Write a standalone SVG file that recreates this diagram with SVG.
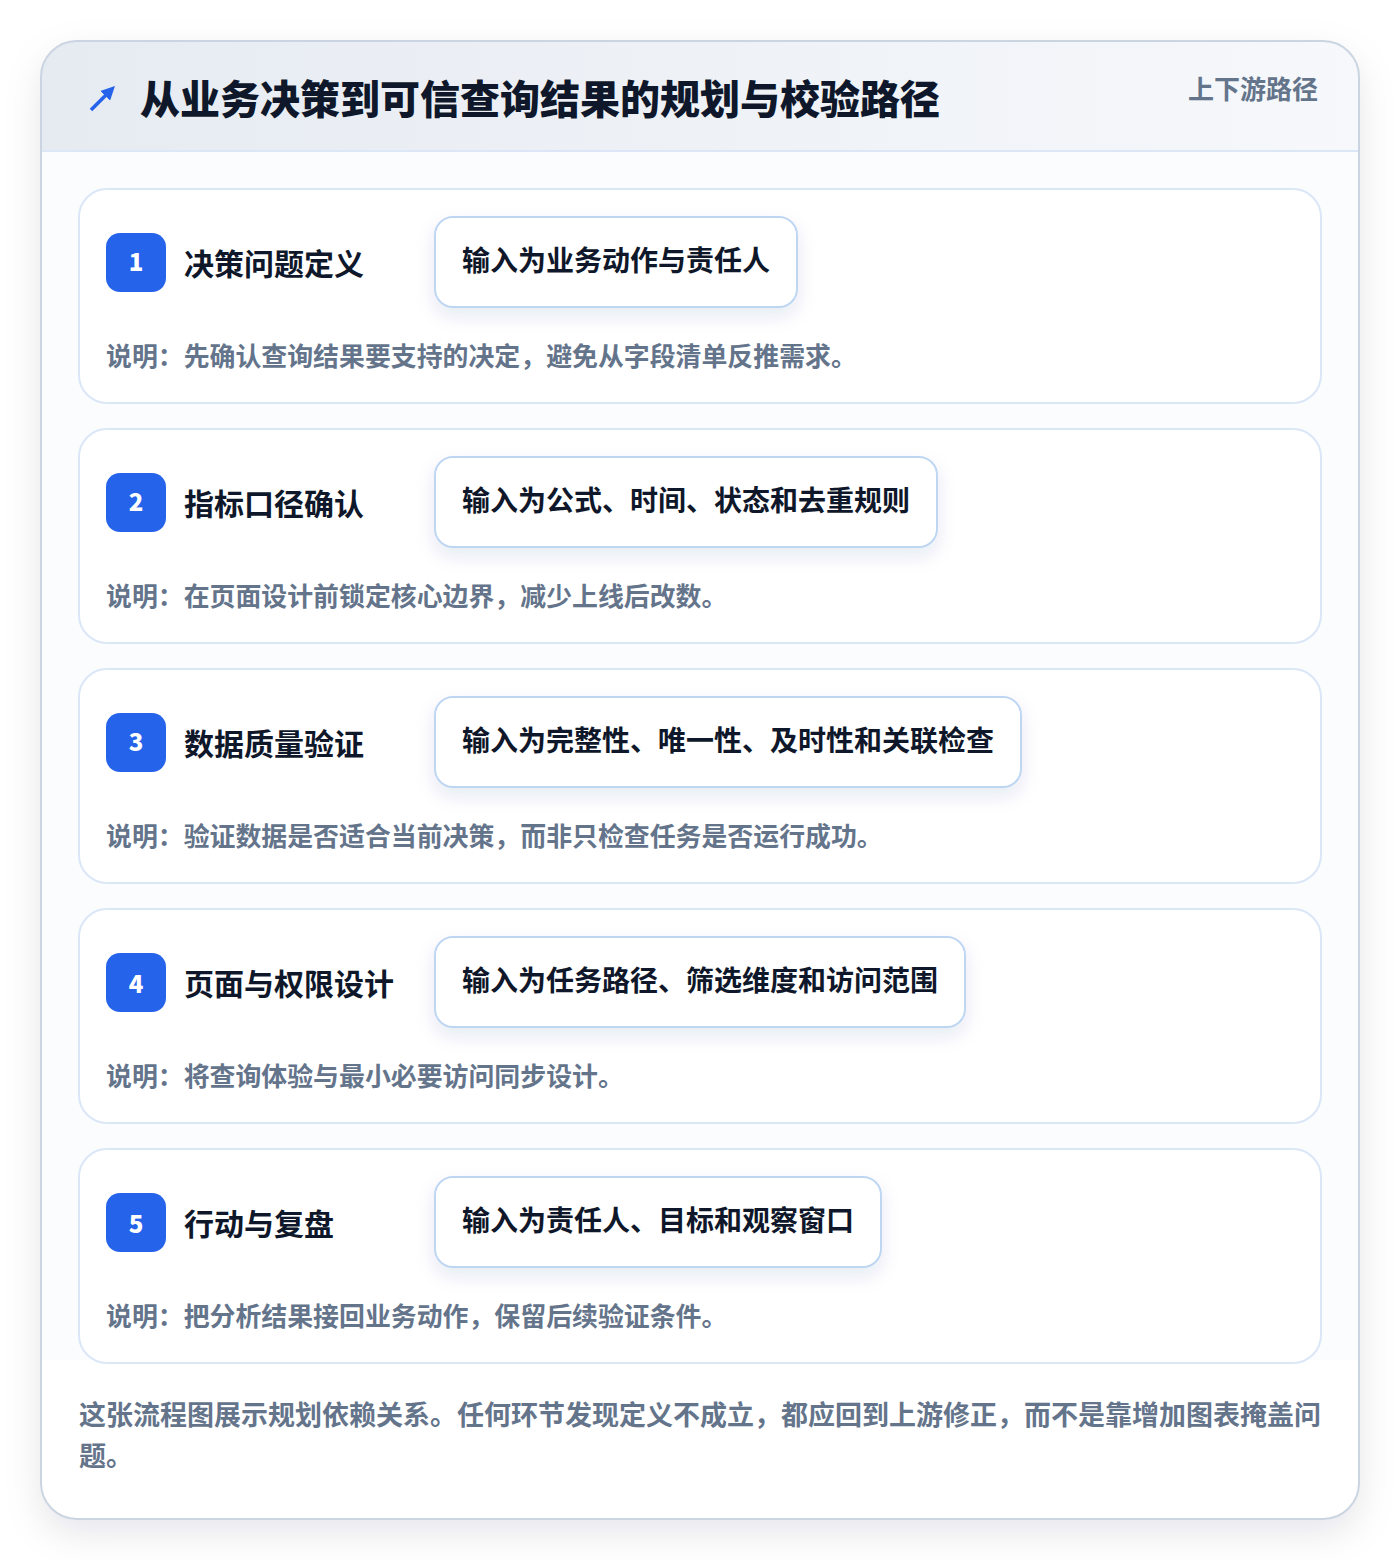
<svg xmlns="http://www.w3.org/2000/svg" width="1400" height="1560" viewBox="0 0 1400 1560">
<defs>
<linearGradient id="hdr" x1="0" y1="0" x2="1" y2="0">
<stop offset="0" stop-color="#e6ebf2"/>
<stop offset="1" stop-color="#f6f8fb"/>
</linearGradient>
<filter id="outerShadow" x="-10%" y="-10%" width="120%" height="120%">
<feDropShadow dx="0" dy="14" stdDeviation="18" flood-color="#0f172a" flood-opacity="0.10"/>
</filter>
<filter id="boxShadow" x="-20%" y="-30%" width="140%" height="170%">
<feDropShadow dx="0" dy="8" stdDeviation="9" flood-color="#1e3a8a" flood-opacity="0.10"/>
</filter>
<clipPath id="cardClip"><rect x="41" y="41" width="1318" height="1478" rx="36"/></clipPath>
<marker id="arr" viewBox="0 0 10 10" refX="5" refY="5" markerWidth="4" markerHeight="4" orient="auto"><path d="M0,0 L10,5 L0,10 z" fill="#2563eb"/></marker>
</defs>
<style>
.f{font-family:"Noto Sans CJK SC","Noto Sans",sans-serif;font-weight:700}
.title{font-size:40px;fill:#0f172a;font-weight:900}
.tag{font-size:26px;fill:#64748b}
.card{fill:#ffffff;stroke:#dbe7f7;stroke-width:2}
.badge{fill:#2563eb}
.num{font-size:24px;fill:#ffffff;font-weight:900}
.lbl{font-size:30px;fill:#0f172a}
.inbox{fill:#ffffff;stroke:#bfd6f3;stroke-width:2}
.intx{font-size:28px;fill:#0f172a}
.desc{font-size:25.9px;fill:#64748b}
.foot{font-size:27px;fill:#64748b}
</style>
<rect width="1400" height="1560" fill="#ffffff"/>
<rect x="41" y="41" width="1318" height="1478" rx="36" fill="#fbfcfe" filter="url(#outerShadow)"/>
<g clip-path="url(#cardClip)">
<rect x="41" y="41" width="1318" height="1478" fill="#fbfcfe"/>
<rect x="41" y="1360" width="1318" height="160" fill="#ffffff"/>
<rect x="41" y="41" width="1318" height="110" fill="url(#hdr)"/>
<line x1="41" y1="151" x2="1359" y2="151" stroke="#dbe7f7" stroke-width="2"/>
</g>
<rect x="41" y="41" width="1318" height="1478" rx="36" fill="none" stroke="#cbd5e1" stroke-width="2"/>
<g id="header">
<line x1="91" y1="110" x2="110" y2="91" stroke="#2563eb" stroke-width="3.5" marker-end="url(#arr)"/>
<text class="f title" x="140" y="114">从业务决策到可信查询结果的规划与校验路径</text>
<text class="f tag" x="1318" y="99" text-anchor="end">上下游路径</text>
</g>
<g id="connectors"></g>
<g id="step1">
<rect class="card" x="79" y="189" width="1242" height="214" rx="28"/>
<rect class="badge" x="106" y="233" width="60" height="59" rx="14"/>
<text class="f num" x="136" y="271" text-anchor="middle">1</text>
<text class="f lbl" x="184" y="275">决策问题定义</text>
<rect class="inbox" x="435" y="217" width="362" height="90" rx="18" filter="url(#boxShadow)"/>
<text class="f intx" x="462" y="271">输入为业务动作与责任人</text>
<text class="f desc" x="106" y="366">说明：先确认查询结果要支持的决定，避免从字段清单反推需求。</text>
</g>
<g id="step2">
<rect class="card" x="79" y="429" width="1242" height="214" rx="28"/>
<rect class="badge" x="106" y="473" width="60" height="59" rx="14"/>
<text class="f num" x="136" y="511" text-anchor="middle">2</text>
<text class="f lbl" x="184" y="515">指标口径确认</text>
<rect class="inbox" x="435" y="457" width="502" height="90" rx="18" filter="url(#boxShadow)"/>
<text class="f intx" x="462" y="511">输入为公式、时间、状态和去重规则</text>
<text class="f desc" x="106" y="606">说明：在页面设计前锁定核心边界，减少上线后改数。</text>
</g>
<g id="step3">
<rect class="card" x="79" y="669" width="1242" height="214" rx="28"/>
<rect class="badge" x="106" y="713" width="60" height="59" rx="14"/>
<text class="f num" x="136" y="751" text-anchor="middle">3</text>
<text class="f lbl" x="184" y="755">数据质量验证</text>
<rect class="inbox" x="435" y="697" width="586" height="90" rx="18" filter="url(#boxShadow)"/>
<text class="f intx" x="462" y="751">输入为完整性、唯一性、及时性和关联检查</text>
<text class="f desc" x="106" y="846">说明：验证数据是否适合当前决策，而非只检查任务是否运行成功。</text>
</g>
<g id="step4">
<rect class="card" x="79" y="909" width="1242" height="214" rx="28"/>
<rect class="badge" x="106" y="953" width="60" height="59" rx="14"/>
<text class="f num" x="136" y="993" text-anchor="middle">4</text>
<text class="f lbl" x="184" y="995">页面与权限设计</text>
<rect class="inbox" x="435" y="937" width="530" height="90" rx="18" filter="url(#boxShadow)"/>
<text class="f intx" x="462" y="991">输入为任务路径、筛选维度和访问范围</text>
<text class="f desc" x="106" y="1086">说明：将查询体验与最小必要访问同步设计。</text>
</g>
<g id="step5">
<rect class="card" x="79" y="1149" width="1242" height="214" rx="28"/>
<rect class="badge" x="106" y="1193" width="60" height="59" rx="14"/>
<text class="f num" x="136" y="1233" text-anchor="middle">5</text>
<text class="f lbl" x="184" y="1235">行动与复盘</text>
<rect class="inbox" x="435" y="1177" width="446" height="90" rx="18" filter="url(#boxShadow)"/>
<text class="f intx" x="462" y="1231">输入为责任人、目标和观察窗口</text>
<text class="f desc" x="106" y="1326">说明：把分析结果接回业务动作，保留后续验证条件。</text>
</g>
<g id="footer">
<text class="f foot" x="79" y="1425">这张流程图展示规划依赖关系。任何环节发现定义不成立，都应回到上游修正，而不是靠增加图表掩盖问</text>
<text class="f foot" x="79" y="1466">题。</text>
</g>
</svg>
